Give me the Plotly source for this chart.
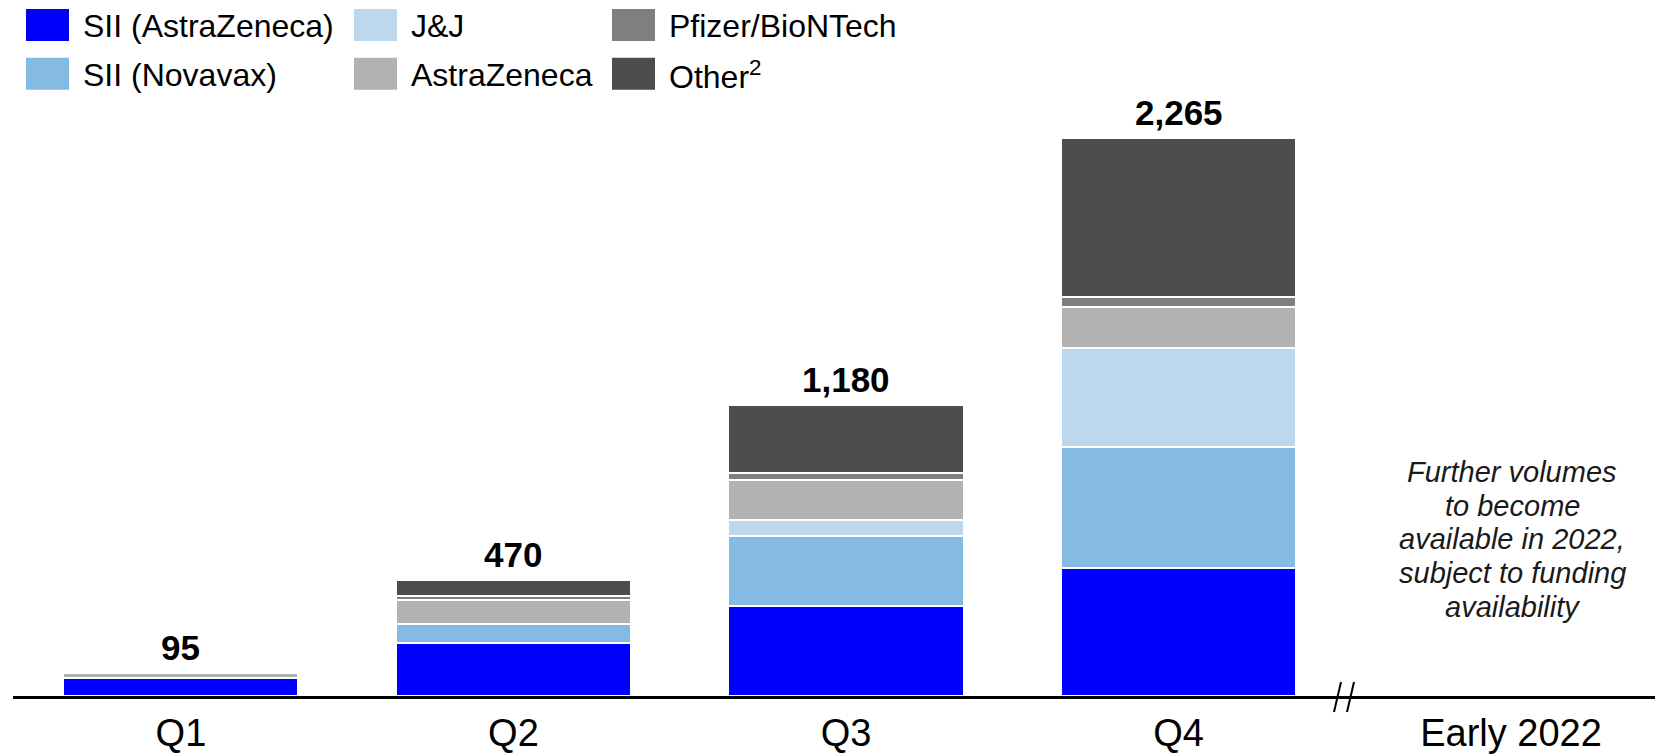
import plotly.graph_objects as go

categories = ["Q1", "Q2", "Q3", "Q4", "Early 2022"]
series_names = ["SII (AstraZeneca)", "SII (Novavax)", "J&J", "AstraZeneca", "Pfizer/BioNTech", "Other<sup>2</sup>"]
sii_az = [75, 217, 367, 520, None]
sii_novavax = [0, 76, 284, 490, None]
jnj = [0, 0, 63, 400, None]
astrazeneca = [20, 96, 164, 170, None]
pfizer = [0, 16, 26, 40, None]
other = [0, 65, 276, 645, None]
totals = [95, 470, 1180, 2265]
total_labels = ["95", "470", "1,180", "2,265"]
colors = ["#0000FF", "#85BBE2", "#BDD7EE", "#B2B2B2", "#7F7F7F", "#4D4D4D"]
note_lines = ["Further volumes", "to become", "available in 2022,", "subject to funding", "availability"]

# page has an 8px body margin; figure coords = page coords - 8
OFF = 8
W, H = 1663 - OFF, 754 - OFF
ML, MR, MT, MB = 5, 0, 0, 56
PW, PH = W - ML - MR, H - MT - MB
FONT = "Liberation Sans, Arial, sans-serif"


def px(x_page):
    return (x_page - OFF - ML) / PW


def py(y_page):
    return (H - MB - (y_page - OFF)) / PH


fig = go.Figure()
all_series = [sii_az, sii_novavax, jnj, astrazeneca, pfizer, other]
for name, vals, col in zip(series_names, all_series, colors):
    fig.add_trace(go.Bar(
        x=categories, y=vals, name=name, marker_color=col,
        marker_line_color="white", marker_line_width=2,
        showlegend=False, hoverinfo="skip",
    ))

for cat, tot, lab in zip(categories, totals, total_labels):
    fig.add_annotation(x=cat, y=tot, text="<b>" + lab + "</b>", showarrow=False,
                       xref="x", yref="y", yanchor="bottom", yshift=4,
                       font=dict(family=FONT, size=35, color="black"))

# manual legend (column-major order as in reference)
legend_layout = [(0, 0), (0, 1), (1, 0), (1, 1), (2, 0), (2, 1)]  # (col,row) per series
col_x = [26, 354, 612]
row_y = [9, 58]
sw_w, sw_h = 43, 32
for (c, r), name, col in zip(legend_layout, series_names, colors):
    x0 = col_x[c]
    y0 = row_y[r]
    fig.add_shape(type="rect", xref="paper", yref="paper",
                  x0=px(x0), x1=px(x0 + sw_w), y0=py(y0 + sw_h), y1=py(y0),
                  fillcolor=col, line_width=0)
    fig.add_annotation(xref="paper", yref="paper", x=px(x0 + 55), y=py(y0 + sw_h / 2 + 1),
                       text=name, showarrow=False, xanchor="left", yanchor="middle",
                       font=dict(family=FONT, size=32, color="black"))

# note text, one annotation per line for tight line spacing
for i, line in enumerate(note_lines):
    fig.add_annotation(xref="paper", yref="paper", x=px(1512), y=py(473 + 34 * i),
                       text="<i>" + line + "</i>", showarrow=False,
                       xanchor="center", yanchor="middle",
                       font=dict(family=FONT, size=29, color="#1a1a1a"))

# axis break marks
for bx in [1334, 1347]:
    fig.add_shape(type="line", xref="paper", yref="paper",
                  x0=px(bx), y0=py(714), x1=px(bx + 7), y1=py(684),
                  line=dict(color="black", width=2))

fig.update_layout(
    width=W, height=H,
    margin=dict(l=ML, r=MR, t=MT, b=MB),
    barmode="stack", bargap=0.293,
    plot_bgcolor="white", paper_bgcolor="white",
    font=dict(family=FONT, color="black"),
    xaxis=dict(type="category", categoryorder="array", categoryarray=categories,
               range=[-0.505, 4.457], showline=True, linecolor="black", linewidth=3,
               ticks="", showgrid=False, tickfont=dict(size=38, family=FONT, color="black"),
               ticklabelstandoff=1),
    yaxis=dict(range=[0, 2791], visible=False, showgrid=False, zeroline=False),
)
fig.write_html("out.html")
